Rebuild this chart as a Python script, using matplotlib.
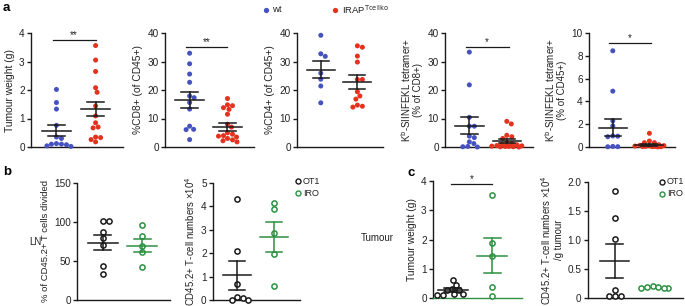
import numpy as np
import matplotlib
matplotlib.use("Agg")
import matplotlib.pyplot as plt
from matplotlib.lines import Line2D

plt.rcParams['font.family'] = ['Liberation Sans', 'DejaVu Sans']

W, H = 685, 306
BLUE = '#4652BE'
RED = '#E3321E'
GREEN = '#2E9143'
BLACK = '#1a1a1a'
TXT = '#222222'

# ---------------- data ----------------
# panel a : wt vs IRAP Tcellko
a_groups = ['wt', 'IRAP$^{\\mathrm{Tcellko}}$']

tumour_wt = [2.02, 1.56, 1.33, 0.76, 0.35, 0.30, 0.12, 0.10, 0.10, 0.08, 0.04, 0.02]
tumour_ko = [3.56, 3.05, 2.65, 2.08, 1.92, 1.44, 1.09, 0.85, 0.70, 0.67, 0.35, 0.33, 0.26, 0.18]
tumour_mean = [0.57, 1.34]
tumour_sem = [0.20, 0.24]

cd8_wt = [32.9, 29.2, 25.6, 22.7, 17.9, 17.3, 15.6, 13.3, 7.3, 6.2, 6.1, 2.6]
cd8_ko = [17.0, 14.8, 14.5, 13.8, 13.2, 11.5, 8.0, 7.0, 5.0, 4.5, 4.0, 3.8, 3.5, 3.0, 2.5, 2.2, 1.8]
cd8_mean = [16.4, 7.1]
cd8_sem = [2.8, 1.4]

cd4_wt = [39.2, 32.7, 31.8, 25.9, 23.8, 21.4, 15.5]
cd4_ko = [35.5, 35.0, 31.9, 29.8, 23.7, 23.7, 19.4, 17.9, 16.8, 14.7, 14.0, 14.3]
cd4_mean = [27.1, 22.9]
cd4_sem = [3.0, 2.4]

tet8_wt = [33.3, 21.8, 10.4, 7.3, 7.3, 3.8, 3.3, 1.8, 1.2, 0.2, 0.1, 0.0]
tet8_ko = [9.0, 8.1, 4.1, 3.6, 3.0, 1.5, 1.2, 1.0, 0.8, 0.5, 0.4, 0.3, 0.2, 0.2, 0.1, 0.1, 0.0]
tet8_mean = [7.5, 2.0]
tet8_sem = [3.0, 0.7]

tet45_wt = [8.44, 4.9, 2.3, 1.85, 0.97, 0.95, 0.9, 0.05, 0.03, 0.02]
tet45_ko = [1.2, 0.52, 0.38, 0.38, 0.2, 0.15, 0.12, 0.1, 0.08, 0.06, 0.05, 0.04, 0.03, 0.02, 0.01]
tet45_mean = [1.7, 0.15]
tet45_sem = [0.72, 0.08]

# panels b, c : OT1 vs IRO
bc_groups = ['OT1', 'IRO']

div_ot1 = [100.7, 100.7, 86.6, 78.9, 70.3, 43.7, 33.0]
div_iro = [95.6, 82.3, 69.4, 61.7, 42.9]
div_mean = [73.3, 69.8]
div_sem = [9.5, 8.5]

num_ot1 = [4.31, 2.11, 0.69, 0.14, 0.07, 0.0, 0.0]
num_iro = [4.14, 3.90, 2.86, 1.96, 0.60]
num_mean = [1.05, 2.69]
num_sem = [0.62, 0.65]

tw_ot1 = [0.62, 0.45, 0.30, 0.28, 0.26, 0.15, 0.12, 0.10, 0.10]
tw_iro = [3.51, 1.89, 1.42, 0.37, 0.06]
tw_mean = [0.27, 1.45]
tw_sem = [0.06, 0.61]

pg_ot1 = [1.85, 1.38, 1.02, 0.14, 0.03, 0.03, 0.03]
pg_iro = [0.21, 0.19, 0.18, 0.17, 0.18, 0.19]
pg_mean = [0.64, 0.18]
pg_sem = [0.29, 0.01]

fig = plt.figure(figsize=(W / 100, H / 100), dpi=100)


def add_ax(x0, x1, ytop, ybot):
    return fig.add_axes([x0 / W, (H - ybot) / H, (x1 - x0) / W, (ybot - ytop) / H])


def swarm(vals, ax, xlim, ylim, diam, maxw=0.42):
    bb = ax.get_position()
    wpx = bb.width * W
    hpx = bb.height * H
    sx = wpx / (xlim[1] - xlim[0])
    sy = hpx / (ylim[1] - ylim[0])
    order = np.argsort(vals)[::-1]
    placed = []
    offs = np.zeros(len(vals))
    lim = maxw * sx
    cands = [0.0]
    k = 1
    while k * 0.5 <= lim:
        cands += [k * 0.5, -k * 0.5]
        k += 1
    for i in order:
        y = vals[i] * sy
        best, bestd = 0.0, -1
        for c in cands:
            d = min([np.hypot(c - px, y - py) for px, py in placed] or [1e9])
            if d >= diam:
                best = c
                bestd = d
                break
            if d > bestd + 0.3:
                best, bestd = c, d
        offs[i] = best / sx
        placed.append((best, y))
    return offs


def panel(ax, groups_vals, colors, means, sems, ylim, yticks, yticklabels,
          ylabel, filled=True, xlim=(-0.65, 1.7), spine_color=None,
          hide_mean=(False, False), ylfs=7.4):
    ax.set_xlim(*xlim)
    ax.set_ylim(*ylim)
    for s in ['top', 'right']:
        ax.spines[s].set_visible(False)
    ax.spines['left'].set_linewidth(1.0)
    ax.spines['bottom'].set_linewidth(1.0)
    ax.spines['left'].set_color(BLACK)
    ax.spines['bottom'].set_color(spine_color or BLACK)
    ax.set_xticks([])
    ax.set_yticks(yticks)
    ax.set_yticklabels(yticklabels, fontsize=7.2, color=TXT)
    ax.tick_params(axis='y', length=3, width=1.0, pad=1.5, color=BLACK)
    ax.set_ylabel(ylabel, fontsize=ylfs, color=TXT, labelpad=3, linespacing=1.1)
    diam = 4.8 if filled else 5.6
    for gi, (vals, col) in enumerate(zip(groups_vals, colors)):
        vals = np.asarray(vals, float)
        offs = swarm(vals, ax, xlim, ylim, diam)
        if filled:
            ax.scatter(gi + offs, vals, s=13, color=col, edgecolors='none',
                       zorder=3, clip_on=False)
        else:
            ax.scatter(gi + offs, vals, s=14, facecolors='white', edgecolors=col,
                       linewidths=1.1, zorder=3, clip_on=False)
        lc = BLACK if filled else col
        m, e = means[gi], sems[gi]
        if not hide_mean[gi]:
            ax.plot([gi - 0.38, gi + 0.38], [m, m], color=lc, lw=1.1, zorder=4)
            ax.plot([gi, gi], [m - e, m + e], color=lc, lw=1.1, zorder=4)
            ax.plot([gi - 0.22, gi + 0.22], [m + e, m + e], color=lc, lw=1.1, zorder=4)
            ax.plot([gi - 0.22, gi + 0.22], [m - e, m - e], color=lc, lw=1.1, zorder=4)


def sig(ax, x0, x1, y, txt):
    ax.plot([x0, x1], [y, y], color=BLACK, lw=0.9, clip_on=False)
    ax.text((x0 + x1) / 2, y, txt, ha='center', va='bottom', fontsize=7, color=TXT)


# ---------- panel a ----------
ax1 = add_ax(31, 123, 33, 147)
panel(ax1, [tumour_wt, tumour_ko], [BLUE, RED], tumour_mean, tumour_sem,
      (0, 4), [0, 1, 2, 3, 4], ['0', '1', '2', '3', '4'], 'Tumour weight (g)')
sig(ax1, -0.1, 1.0, 3.75, '**')

ax2 = add_ax(165, 254, 33, 147)
panel(ax2, [cd8_wt, cd8_ko], [BLUE, RED], cd8_mean, cd8_sem,
      (0, 40), [0, 10, 20, 30, 40], ['0', '10', '20', '30', '40'], '%CD8+ (of CD45+)')
sig(ax2, -0.1, 1.0, 35.2, '**')

ax3 = add_ax(297, 383, 33, 147)
panel(ax3, [cd4_wt, cd4_ko], [BLUE, RED], cd4_mean, cd4_sem,
      (0, 40), [0, 10, 20, 30, 40], ['0', '10', '20', '30', '40'], '%CD4+ (of CD45+)')

ax4 = add_ax(445, 533, 33, 147)
panel(ax4, [tet8_wt, tet8_ko], [BLUE, RED], tet8_mean, tet8_sem,
      (0, 40), [0, 10, 20, 30, 40], ['0', '10', '20', '30', '40'],
      'K$^{\\mathrm{b}}$-SIINFEKL tetramer+\n(% of CD8+)', ylfs=7.0)
sig(ax4, -0.1, 1.05, 35.2, '*')

ax5 = add_ax(589, 675, 33, 147)
panel(ax5, [tet45_wt, tet45_ko], [BLUE, RED], tet45_mean, tet45_sem,
      (0, 10), [0, 2, 4, 6, 8, 10], ['0', '2', '4', '6', '8', '10'],
      'K$^{\\mathrm{b}}$-SIINFEKL tetramer+\n(% of CD45+)', ylfs=7.0)
sig(ax5, -0.1, 1.05, 9.1, '*')

# ---------- panel b ----------
axb1 = add_ax(77, 170, 183, 300)
panel(axb1, [div_ot1, div_iro], [BLACK, GREEN], div_mean, div_sem,
      (0, 150), [0, 50, 100, 150], ['0', '50', '100', '150'],
      '% of CD45.2+ T cells divided', filled=False, ylfs=6.8)

axb2 = add_ax(213, 300, 183, 300)
panel(axb2, [num_ot1, num_iro], [BLACK, GREEN], num_mean, num_sem,
      (0, 5), [0, 1, 2, 3, 4, 5], ['0', '1', '2', '3', '4', '5'],
      'CD45.2+ T-cell numbers \u00d710$^{4}$', filled=False, ylfs=6.9)

# ---------- panel c ----------
axc1 = add_ax(433, 522, 181, 298)
panel(axc1, [tw_ot1, tw_iro], [BLACK, GREEN], tw_mean, tw_sem,
      (0, 4), [0, 1, 2, 3, 4], ['0', '1', '2', '3', '4'],
      'Tumour weight (g)', filled=False, xlim=(-0.5, 1.75), spine_color=GREEN)
sig(axc1, -0.05, 1.0, 3.9, '*')

axc2 = add_ax(588, 683, 182, 298)
panel(axc2, [pg_ot1, pg_iro], [BLACK, GREEN], pg_mean, pg_sem,
      (0, 2.0), [0, 0.5, 1.0, 1.5, 2.0], ['0', '0.5', '1.0', '1.5', '2.0'],
      'CD45.2+ T-cell numbers \u00d710$^{4}$\n/g tumour', filled=False,
      xlim=(-0.7, 1.8), hide_mean=(False, True), ylfs=6.9)

# ---------- annotations ----------
def ftext(x, y, s, **kw):
    fig.text(x / W, 1 - y / H, s, **kw)

ftext(3, 8, 'a', fontsize=9.5, fontweight='bold', va='center', ha='left')
ftext(3, 172, 'b', fontsize=9.5, fontweight='bold', va='center', ha='left')
ftext(407, 173, 'c', fontsize=9.5, fontweight='bold', va='center', ha='left')
ftext(29, 242, 'LN', fontsize=7, va='center', ha='left', color=TXT)
ftext(361, 238, 'Tumour', fontsize=7, va='center', ha='left', color=TXT)


def leg_marker(x, y, color, filled):
    if filled:
        m = Line2D([x / W], [1 - y / H], marker='o', ms=3.8, color=color, mec='none',
                   lw=0, transform=fig.transFigure)
    else:
        m = Line2D([x / W], [1 - y / H], marker='o', ms=3.6, mfc='white', mec=color,
                   mew=1.0, lw=0, transform=fig.transFigure)
    fig.add_artist(m)


leg_marker(266, 10, BLUE, True)
ftext(272, 10, 'wt', fontsize=6.8, va='center', ha='left', color=TXT)
leg_marker(335, 10, RED, True)
ftext(342, 10, 'IRAP$^{\\mathrm{Tcellko}}$', fontsize=6.8, va='center', ha='left', color=TXT)

for (lx, ly) in [(298, 181), (662, 182)]:
    leg_marker(lx, ly, BLACK, False)
    ftext(lx + 5, ly, 'OT1', fontsize=6.5, va='center', ha='left', color=TXT)
    leg_marker(lx, ly + 12, GREEN, False)
    ftext(lx + 5, ly + 12, 'IRO', fontsize=6.5, va='center', ha='left', color=TXT)

fig.savefig('out.png', dpi=100)
